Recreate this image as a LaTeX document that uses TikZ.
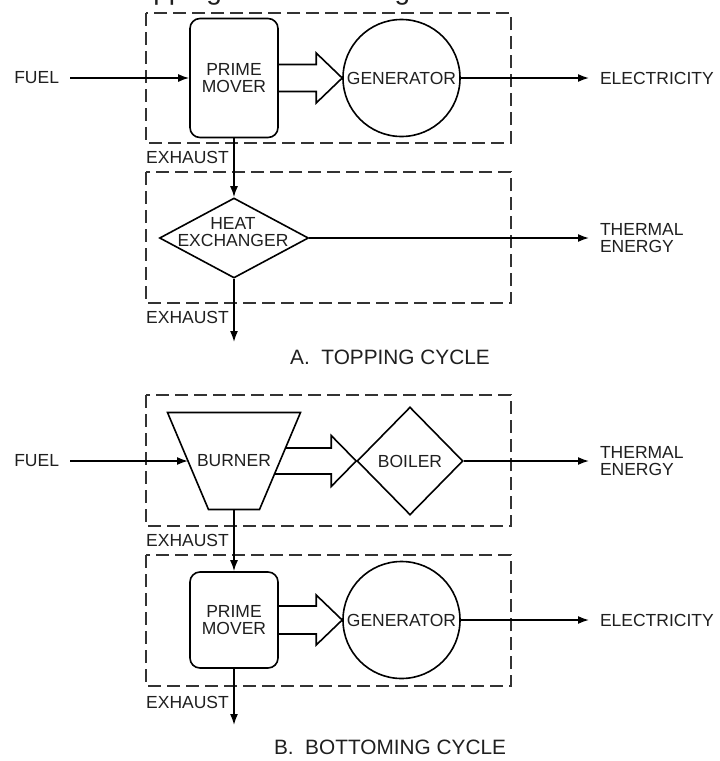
\documentclass[tikz,border=0pt]{standalone}
\usepackage{fontspec}
\setmainfont{Liberation Sans}
\usetikzlibrary{arrows.meta, calc, shapes.geometric}

\begin{document}
\begin{tikzpicture}[x=1pt, y=-1pt, >={Latex[length=11pt,width=8pt]}, line width=1.6pt,
  every node/.style={text=black!88, font=\fontsize{17.5}{17}\selectfont},
  lbl/.style={inner sep=0pt, outer xsep=11pt, align=left},
  exh/.style={inner sep=0pt},
  title/.style={inner sep=0pt, font=\fontsize{20.8}{22}\selectfont},
  dashbox/.style={draw=black!80, line width=2.3pt, dash pattern=on 13pt off 6pt},
  mover/.style={draw, rounded corners=10pt, minimum width=88pt, minimum height=119pt, inner sep=0pt, align=center},
  gen/.style={draw, circle, minimum size=117pt, inner sep=0pt},
  hexbox/.style={draw, diamond, minimum width=149pt, minimum height=80pt, inner sep=0pt},
  boilerbox/.style={draw, diamond, minimum width=106pt, minimum height=108pt, inner sep=0pt},
  hollow/.style={line join=miter}]
  \useasboundingbox (0,0) rectangle (720,761);
  \clip (0,0) rectangle (720,761);
  % heading, cut off at the top edge
  \node[anchor=base west, inner sep=0pt, font=\fontsize{28}{28}\selectfont] (head) at (123,-1) {Topping and Bottoming};
  % ===== A. Topping cycle =====
  \draw[dashbox] (146,13) rectangle (511,143);
  \draw[dashbox] (146,172) rectangle (511,303);
  \node[mover] (pmA) at (234,78) {PRIME\\MOVER};
  \node[gen] (genA) at (401.5,78) {GENERATOR};
  \node[lbl, anchor=east] (fuelA) at (70,78) {FUEL};
  \node[lbl, anchor=west] (elecA) at (589,78) {ELECTRICITY};
  \draw[->] (fuelA.east) -- (pmA.west);
  \draw[->] (genA.east) -- (elecA.west);
  \draw[hollow] ($(pmA.east)+(0,-13.5)$) -- ($(genA.west)+(-26,-13.5)$) -- ($(genA.west)+(-26,-25)$)
    -- (genA.west) -- ($(genA.west)+(-26,25)$) -- ($(genA.west)+(-26,13.5)$) -- ($(pmA.east)+(0,13.5)$);
  \node[exh] (exA1) at (187.5,157) {EXHAUST};
  \node[hexbox] (hxA) at (234,238) {};
  \node[exh, align=center] (hxAtxt) at (233,232) {HEAT\\EXCHANGER};
  \draw[->] (pmA.south) -- (hxA.north);
  \node[lbl, anchor=west] (thermA) at (589,238) {THERMAL\\ENERGY};
  \draw[->] (hxA.east) -- (thermA.west);
  \node[exh] (exA2) at (187.5,317) {EXHAUST};
  \coordinate (outA) at (234,342);
  \draw[->] (hxA.south) -- (outA);
  \node[title] (capA) at (390,357) {A.~~TOPPING CYCLE};
  % ===== B. Bottoming cycle =====
  \draw[dashbox] (146,395) rectangle (511,526);
  \draw[dashbox] (146,555) rectangle (511,686);
  \coordinate (bTL) at (167.5,412.5); \coordinate (bTR) at (300.5,412.5);
  \coordinate (bBR) at (259.5,509.5); \coordinate (bBL) at (208.5,509.5);
  \draw (bTL) -- (bTR) -- (bBR) -- (bBL) -- cycle;
  \node[exh] (burner) at (234,461) {BURNER};
  \coordinate (burnerL) at ($(bTL)!0.5!(bBL)$);
  \coordinate (burnerS) at ($(bBL)!0.5!(bBR)$);
  \node[boilerbox] (boiler) at (410,461) {BOILER};
  \node[lbl, anchor=east] (fuelB) at (70,461) {FUEL};
  \node[lbl, anchor=west] (thermB) at (589,461) {THERMAL\\ENERGY};
  \draw[->] (fuelB.east) -- (burnerL);
  \draw[->] (boiler.east) -- (thermB.west);
  \draw[hollow] ($(bTR)!0.366!(bBR)$) -- ($(boiler.west)+(-25,-13)$) -- ($(boiler.west)+(-25,-25.5)$)
    -- (boiler.west) -- ($(boiler.west)+(-25,25.5)$) -- ($(boiler.west)+(-25,13)$) -- ($(bTR)!0.634!(bBR)$);
  \node[exh] (exB1) at (187.5,540) {EXHAUST};
  \node[mover, minimum height=96pt] (pmB) at (234,620) {PRIME\\MOVER};
  \node[gen] (genB) at (401.5,620) {GENERATOR};
  \draw[->] (burnerS) -- (pmB.north);
  \node[lbl, anchor=west] (elecB) at (589,620) {ELECTRICITY};
  \draw[->] (genB.east) -- (elecB.west);
  \draw[hollow] ($(pmB.east)+(0,-14)$) -- ($(genB.west)+(-26,-14)$) -- ($(genB.west)+(-26,-25)$)
    -- (genB.west) -- ($(genB.west)+(-26,25)$) -- ($(genB.west)+(-26,14)$) -- ($(pmB.east)+(0,14)$);
  \node[exh] (exB2) at (187.5,702) {EXHAUST};
  \coordinate (outB) at (234,725);
  \draw[->] (pmB.south) -- (outB);
  \node[title] (capB) at (390,747) {B.~~BOTTOMING CYCLE};
\end{tikzpicture}
\end{document}
